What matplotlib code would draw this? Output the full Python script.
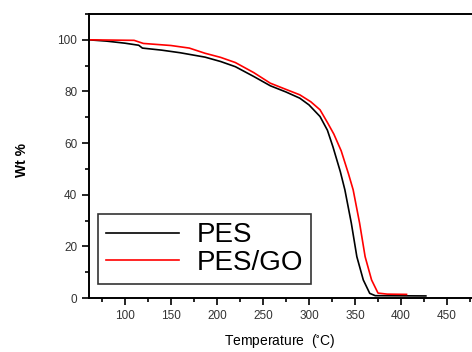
import numpy as np
import matplotlib.pyplot as plt
from matplotlib.ticker import MultipleLocator

plt.rcParams['font.family'] = ['Liberation Sans', 'DejaVu Sans']

# TGA curves
temp_pes = [61, 80, 100, 115, 119, 140, 160, 187, 204, 220, 240, 258, 275, 290, 300,
            312, 320, 326, 334, 339, 346, 352, 359, 366, 372, 427]
wt_pes = [100, 99.5, 98.7, 97.9, 96.8, 96.0, 95.0, 93.3, 91.6, 89.6, 85.8, 82.2, 79.8,
          77.4, 74.8, 70.3, 65.0, 58.6, 49.0, 41.9, 29.0, 16.0, 7.0, 1.8, 0.9, 0.8]

temp_go = [61, 110, 120, 150, 170, 187, 204, 220, 240, 258, 275, 290, 302, 312, 320,
           327, 335, 343, 348, 355, 361, 368, 375, 385, 406]
wt_go = [100, 99.8, 98.6, 97.8, 96.8, 94.8, 93.2, 91.2, 87.3, 83.2, 80.8, 78.7, 76.0,
         72.9, 68.0, 63.5, 57.0, 48.0, 41.9, 29.0, 16.0, 7.0, 1.9, 1.5, 1.4]

fig = plt.figure(figsize=(4.72, 3.52), dpi=100)
ax = fig.add_axes([0.1886, 0.1534, 0.856, 0.8068])

ax.plot(temp_pes, wt_pes, color='black', lw=1.2, label='PES')
ax.plot(temp_go, wt_go, color='red', lw=1.2, label='PES/GO')

ax.set_xlim(61, 500)
ax.set_ylim(0, 110)
ax.set_xticks([100, 150, 200, 250, 300, 350, 400, 450])
ax.set_yticks([0, 20, 40, 60, 80, 100])
ax.xaxis.set_minor_locator(MultipleLocator(25))
ax.yaxis.set_minor_locator(MultipleLocator(10))
ax.tick_params(which='major', direction='out', length=5, width=1.2,
               labelsize=8.5, labelcolor='#333333')
ax.tick_params(which='minor', direction='out', length=3, width=1.2)
ax.tick_params(axis='x', which='both', bottom=True, top=False)
ax.tick_params(axis='y', which='both', left=True, right=False)
for s in ax.spines.values():
    s.set_linewidth(1.4)

fig.text(22 / 472, 1 - 160 / 352, 'Wt %', rotation=90, fontsize=10,
         fontweight='bold', ha='center', va='center')
fig.text(280 / 472, 1 - 341 / 352, r'Temperature  ($\mathregular{^{\circ}}$C)',
         fontsize=10, ha='center', va='center')

leg = ax.legend(loc='lower left', bbox_to_anchor=(9 / 404, 14 / 284),
                fontsize=20, frameon=True, fancybox=False, handlelength=2.6,
                borderpad=0.3, labelspacing=0.05, handletextpad=0.65,
                borderaxespad=0)
leg.get_frame().set_edgecolor('black')
leg.get_frame().set_linewidth(1.2)

fig.savefig('out.png', dpi=100)
